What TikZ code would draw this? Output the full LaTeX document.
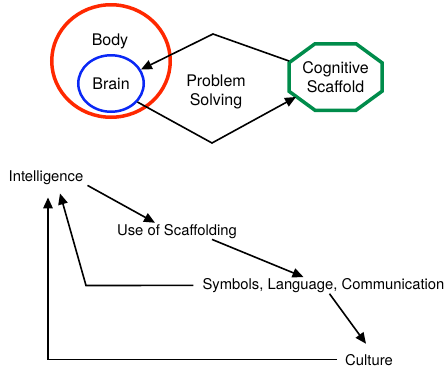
\documentclass[tikz,border=0pt]{standalone}
\usepackage{fontspec}
\setmainfont{TeX Gyre Heros}
\usetikzlibrary{shapes.geometric,arrows.meta}
\definecolor{bodyred}{RGB}{255,40,0}
\definecolor{brainblue}{RGB}{10,40,245}
\definecolor{scafgreen}{RGB}{0,140,75}

\begin{document}
\begin{tikzpicture}[x=1pt,y=1pt,>={Triangle[length=11pt,width=9.5pt]},
    ring/.style = {draw,ellipse,inner sep=0pt},
    big/.style = {font=\fontsize{16}{19.5}\selectfont,align=center,inner sep=1pt},
    small/.style = {font=\fontsize{14.8}{17}\selectfont,inner sep=1pt,anchor=base},
    arr/.style = {->,line width=1.6pt}]
      \useasboundingbox (0,0) rectangle (447,-367);
      % body, brain and the scaffold
      \node[ring,draw=bodyred,line width=3.5pt,minimum width=118.5pt,minimum height=112.5pt] (body) at (111,-61) {};
      \node[big,anchor=base] (bodytxt) at (110,-45.7) {Body};
      \node[ring,big,draw=brainblue,line width=2.5pt,minimum width=65.5pt,minimum height=56.5pt] (brain) at (111,-83.5) {Brain};
      \node[big,outer sep=0pt,minimum width=93pt,minimum height=66.5pt] (scaf) at (335.5,-77) {Cognitive\\Scaffold};
      \draw[scafgreen,line width=3.5pt] (scaf.north west) ++(26,0) -- ++(41,0) -- ++(26,-19) -- ++(0,-28.5)
            -- ++(-26,-19) -- ++(-41,0) -- ++(-26,19) -- ++(0,28.5) -- cycle;
      \node[big] (ps) at (216,-92) {Problem\\Solving};
      \coordinate (up) at (213,-34);
      \coordinate (down) at (212,-143);
      \draw[arr] ([yshift=16pt]scaf.west) -- (up) -- (brain.25);
      \draw[arr] (brain.-35) -- (down) -- ([shift={(7pt,-20pt)}]scaf.west);
      % the chain below
      \node[small] (intel) at (46,-181) {Intelligence};
      \node[small] (use) at (177,-235) {Use of Scaffolding};
      \node[small] (sym) at (323.5,-289.3) {Symbols, Language, Communication};
      \node[small] (cult) at (369,-365) {Culture};
      \coordinate (kink) at (86,-285.5);
      \draw[arr] ([xshift=3pt]intel.south east) -- ([xshift=-22pt]use.north);
      \draw[arr] ([xshift=35pt]use.south) -- ([xshift=-20pt]sym.north);
      \draw[arr] ([xshift=6pt]sym.south) -- ([xshift=-3pt,yshift=9pt]cult.north);
      \draw[arr,shorten <=8pt] (sym.west) -- (kink) -- ([xshift=14pt,yshift=-8pt]intel.south);
      \draw[arr,shorten <=7pt] (cult.west) -| ([xshift=2pt,yshift=-12pt]intel.south);
\end{tikzpicture}
\end{document}
